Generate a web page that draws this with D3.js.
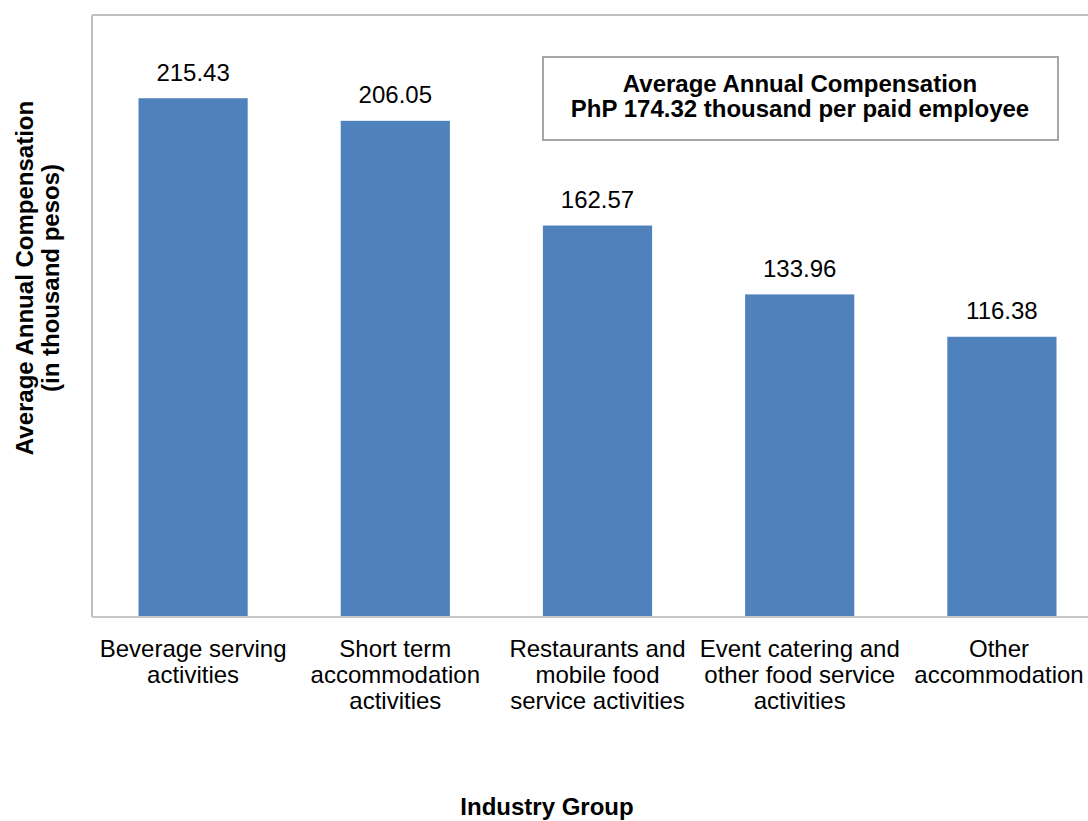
<!DOCTYPE html>
<html>
<head>
<meta charset="utf-8">
<script src="https://cdn.jsdelivr.net/npm/d3@7"></script>
<style>
  body { margin: 0; background: #fff; }
  text { font-family: "Liberation Sans", Arial, sans-serif; fill: #000; }
</style>
</head>
<body>
<svg id="chart"></svg>
<script>
'use strict';

const categories = [
  ['Beverage serving', 'activities'],
  ['Short term', 'accommodation', 'activities'],
  ['Restaurants and', 'mobile food', 'service activities'],
  ['Event catering and', 'other food service', 'activities'],
  ['Other', 'accommodation'],
];
const values = [215.43, 206.05, 162.57, 133.96, 116.38];
const yTitle = ['Average Annual Compensation', '(in thousand pesos)'];
const xTitle = 'Industry Group';
const boxText = ['Average Annual Compensation', 'PhP 174.32 thousand per paid employee'];

const width = 1088;
const height = 821;
const margin = { top: 15, left: 92, bottom: 204 };
const step = 202.2;
const plotBottom = height - margin.bottom;
const fontSize = '24px';

const svg = d3.select('#chart')
  .attr('width', width)
  .attr('height', height);

const xScale = d3.scaleBand()
  .domain(d3.range(values.length))
  .range([margin.left, margin.left + step * values.length])
  .paddingInner(0.46)
  .paddingOuter(0.23);

const yScale = d3.scaleLinear()
  .domain([0, 250])
  .range([plotBottom, margin.top]);

// frame lines
svg.append('line')
  .attr('x1', margin.left).attr('x2', width)
  .attr('y1', margin.top).attr('y2', margin.top)
  .attr('stroke', '#c0c0c0').attr('stroke-width', 2);
svg.append('line')
  .attr('x1', margin.left).attr('x2', margin.left)
  .attr('y1', margin.top).attr('y2', plotBottom)
  .attr('stroke', '#c0c0c0').attr('stroke-width', 2);

svg.selectAll('rect.bar')
  .data(values)
  .enter()
  .append('rect')
  .attr('class', 'bar')
  .attr('x', (d, i) => xScale(i))
  .attr('y', (d) => yScale(d))
  .attr('width', xScale.bandwidth())
  .attr('height', (d) => plotBottom - yScale(d))
  .attr('fill', '#4f81bd');

svg.append('line')
  .attr('x1', margin.left).attr('x2', width)
  .attr('y1', plotBottom).attr('y2', plotBottom)
  .attr('stroke', '#c8c8c8').attr('stroke-width', 2);

svg.selectAll('text.val')
  .data(values)
  .enter()
  .append('text')
  .attr('class', 'val')
  .text((d) => d.toFixed(2))
  .attr('text-anchor', 'middle')
  .attr('x', (d, i) => xScale(i) + xScale.bandwidth() / 2)
  .attr('y', (d) => yScale(d) - 17.5)
  .attr('font-size', fontSize);

// category labels
const cat = svg.selectAll('text.cat')
  .data(categories)
  .enter()
  .append('text')
  .attr('class', 'cat')
  .attr('text-anchor', 'middle')
  .attr('font-size', fontSize);
cat.selectAll('tspan')
  .data((d, i) => d.map((s) => ({ s, i })))
  .enter()
  .append('tspan')
  .attr('x', (d) => Math.min(xScale(d.i) + xScale.bandwidth() / 2, 999))
  .attr('y', (d, j) => 656.5 + j * 26)
  .text((d) => d.s);

// value box
svg.append('rect')
  .attr('x', 543).attr('y', 57)
  .attr('width', 515).attr('height', 83)
  .attr('fill', '#fff')
  .attr('stroke', '#a6a6a6').attr('stroke-width', 2);
svg.selectAll('text.box')
  .data(boxText)
  .enter()
  .append('text')
  .attr('class', 'box')
  .attr('text-anchor', 'middle')
  .attr('x', 800)
  .attr('y', (d, i) => 91.5 + i * 25)
  .attr('font-size', fontSize)
  .attr('font-weight', 'bold')
  .text((d) => d);

// axis titles
svg.selectAll('text.ytitle')
  .data(yTitle)
  .enter()
  .append('text')
  .attr('class', 'ytitle')
  .attr('text-anchor', 'middle')
  .attr('transform', (d, i) => `translate(${33 + i * 26},278) rotate(-90)`)
  .attr('font-size', fontSize)
  .attr('font-weight', 'bold')
  .text((d) => d);

svg.append('text')
  .attr('text-anchor', 'middle')
  .attr('x', 547)
  .attr('y', 815)
  .attr('font-size', fontSize)
  .attr('font-weight', 'bold')
  .text(xTitle);
</script>
</body>
</html>
